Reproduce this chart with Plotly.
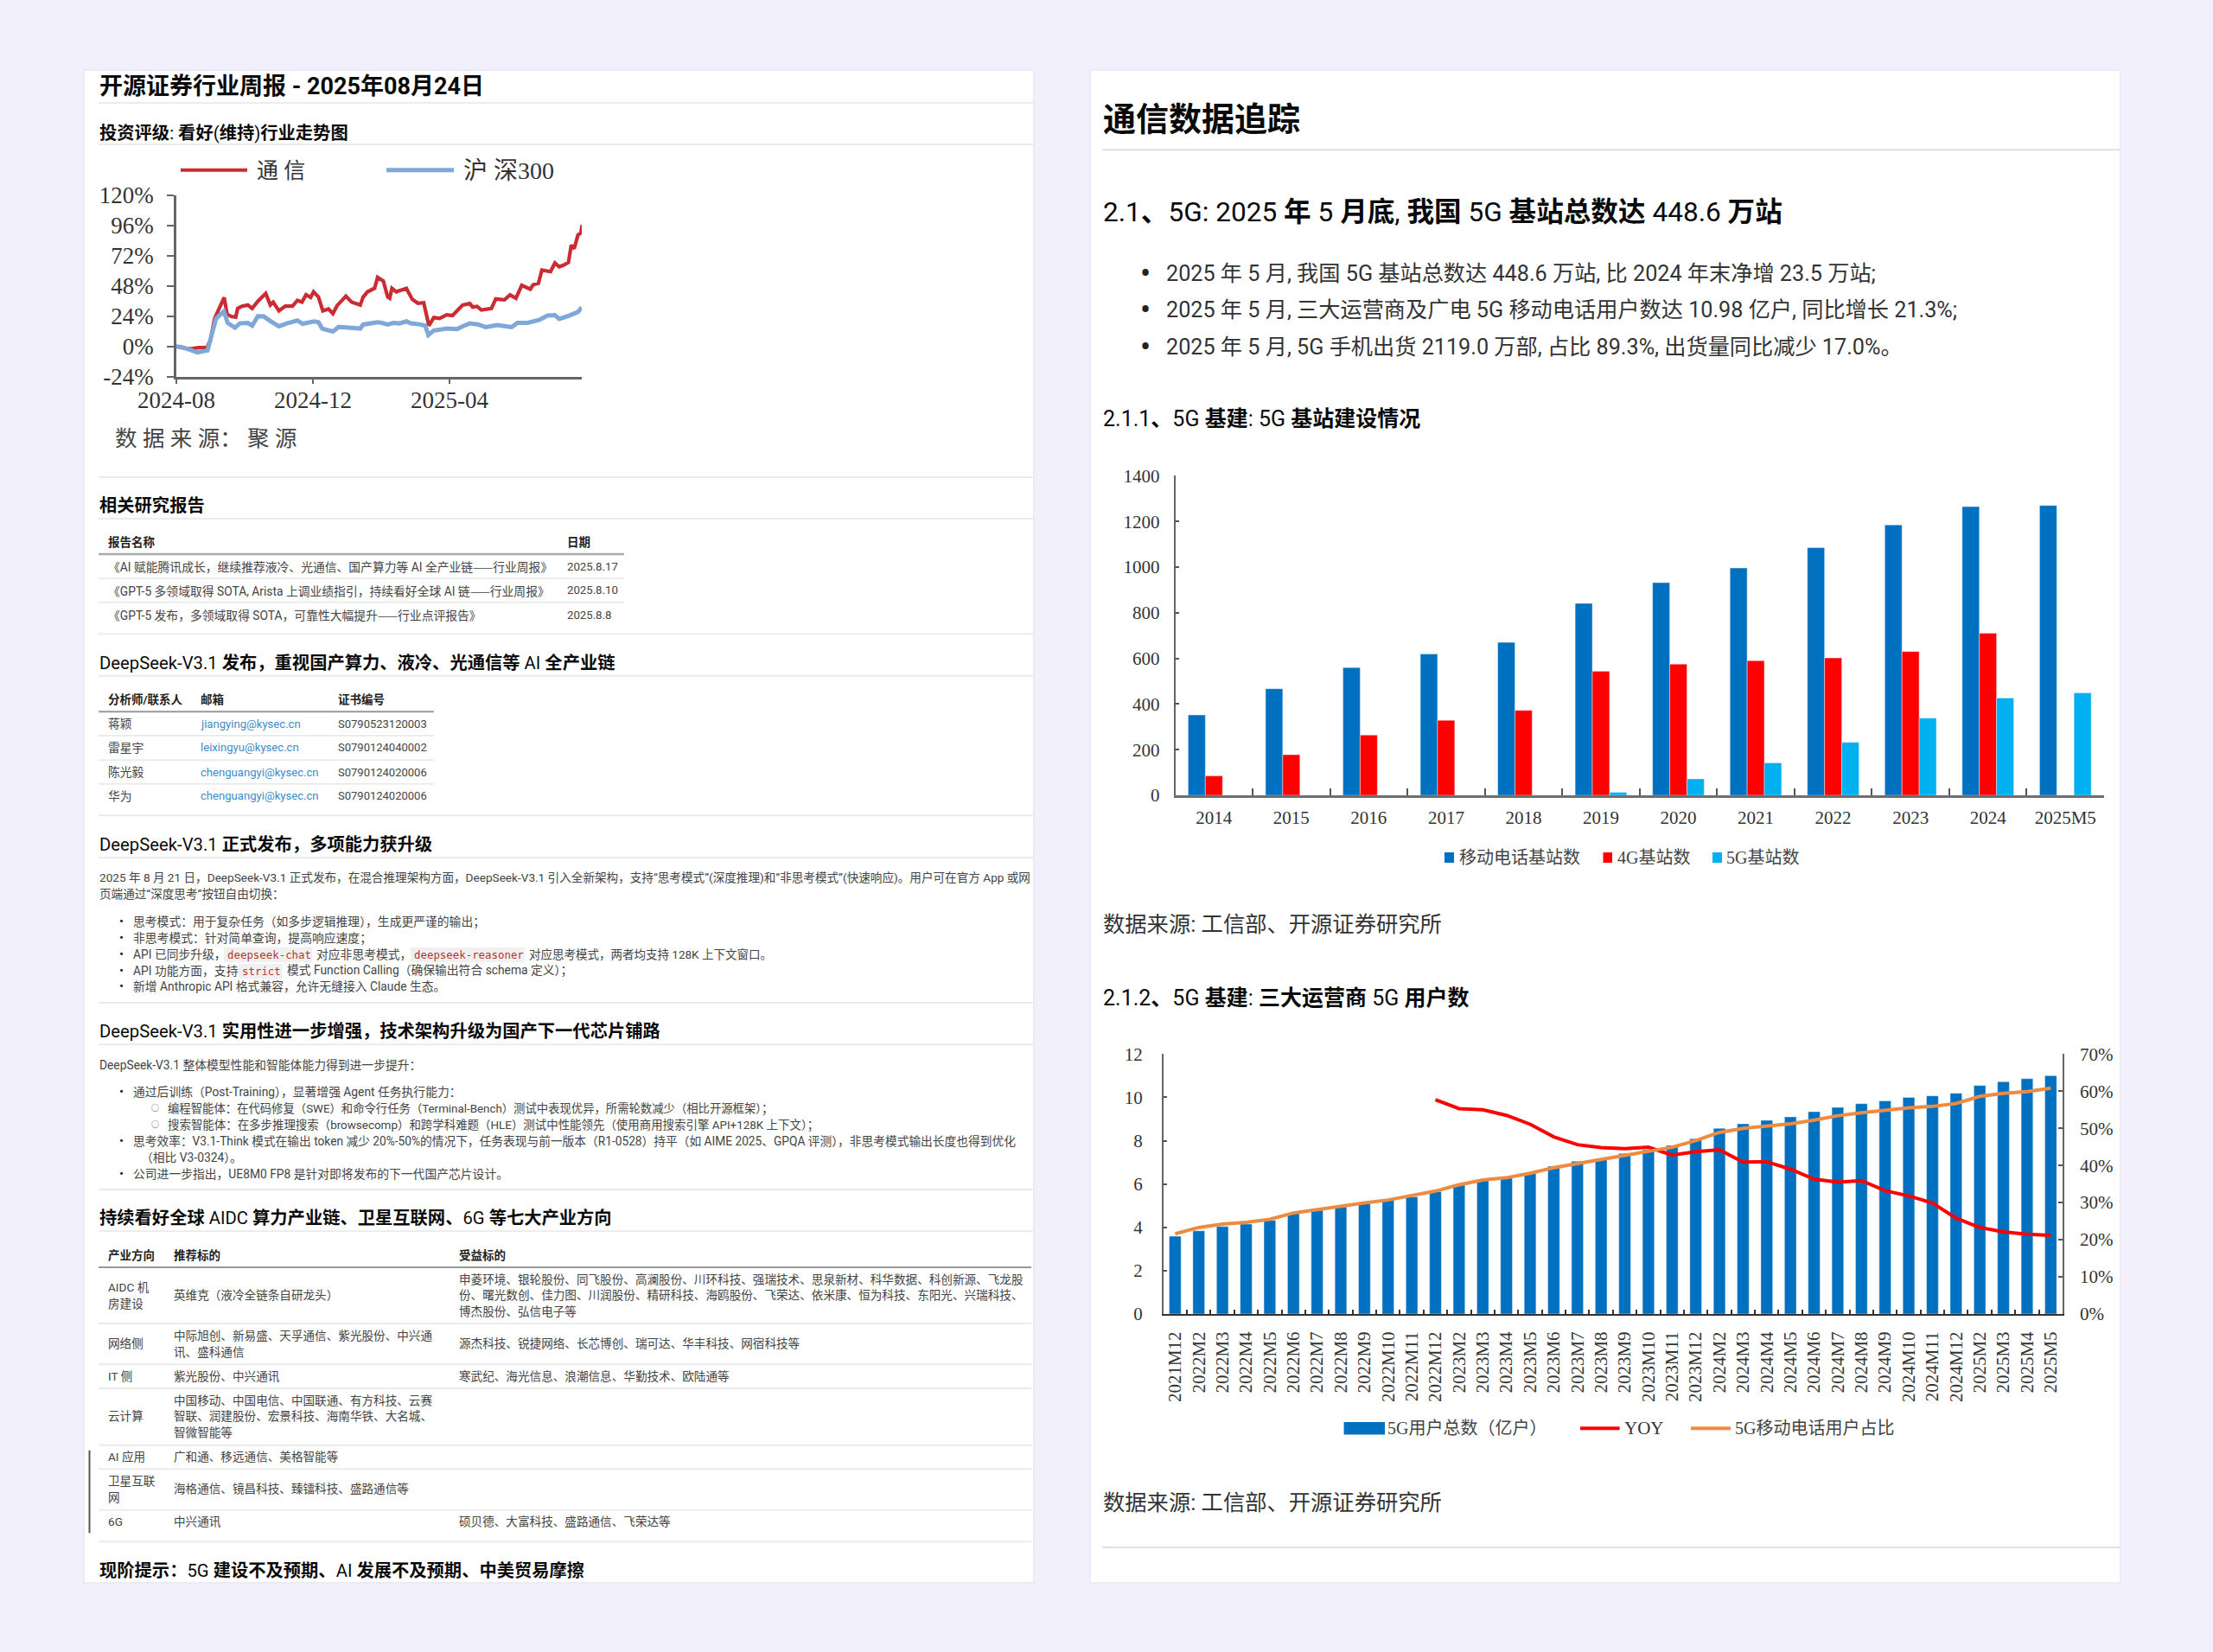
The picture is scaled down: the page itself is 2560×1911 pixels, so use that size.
import re
import pandas as pd
import plotly.graph_objects as go

W, H = 2560, 1911

# ---- left chart: index performance, days counted from the first date
start_date = "2024-08-23"
comm_days = [0, 4.6, 9.8, 14.9, 20, 27.3, 30.4, 34.2, 38.1, 42.7, 45.3, 48.9, 53, 54.8, 58.7, 63.8, 67.7, 72.8, 79.8,
             83.9, 86.5, 91.6, 97.3, 103.7, 108.1, 112.2, 115.8, 119.9, 122.5, 126.9, 130.8, 135.9, 139.8, 143.6,
             151.4, 156.5, 164.2, 166.8, 170.7, 177, 179.7, 184.8, 188.7, 190.5, 192.5, 196.4, 205.4, 210.6, 215.7,
             220.9, 225.5, 229.9, 235, 241.4, 246.6, 255.6, 262, 264.6, 268.5, 272.3, 281.3, 285.2, 292.9, 298,
             303.2, 308.4, 316, 318.7, 323.3, 326.4, 334.1, 338, 341.8, 345.7, 350.1, 352.6, 355.2, 358.6, 361.1, 362.4]
comm_vals = [0, -0.7, -1.8, -1.6, -0.9, -0.9, 5, 22.2, 30.2, 38.9, 25.6, 23.8, 23.3, 30.2, 32, 32.9, 30.2, 35.9, 42.1,
             32.9, 35.2, 28.3, 32, 32, 36.6, 35.2, 41.1, 38.9, 43.4, 39.3, 28.3, 29.7, 26.1, 32.5,
             40, 35.2, 32.9, 39.3, 43.4, 46.2, 54.9, 51.9, 39.3, 38.2, 46.2, 43.4, 46.2, 37.5, 34.3,
             34.7, 16.5, 22.9, 22.2, 25.1, 24.5, 32.9, 34.1, 31.3, 31.8, 29, 30.2, 37.7, 37, 40.9,
             38.2, 48.5, 45.5, 49.1, 50.1, 60.6, 59.4, 66.3, 63.3, 64.5, 66.8, 80.5, 77.7, 88.5, 90.1, 96.5]
hs300_days = [0, 4.6, 11.1, 18.8, 27.8, 31.7, 35.5, 42.5, 45.8, 52.3, 56.6, 63.8, 67.7, 72.8, 78, 85.7, 91.6, 98.6,
              108.1, 112.7, 123, 126.9, 130.2, 139.8, 144.9, 153.9, 164.2, 166.8, 173.2, 179.7, 183.5, 188.7, 193.8,
              199, 205.4, 209.3, 217, 222.2, 225, 229.9, 241.4, 250.5, 255.6, 262, 269.8, 276.2, 286.5, 299.4, 304.5,
              313.5, 323.8, 331.5, 338, 341.8, 350.8, 358.6, 361.9]
hs300_vals = [0, -0.5, -2.3, -4.8, -3.2, 9.6, 22.2, 27.9, 18.7, 14.9, 18.3, 18.7, 16.5, 24, 23.8, 19.2, 16, 18.3,
              20.6, 18, 19.9, 19.2, 14.2, 11.9, 15.5, 15, 14.2, 17.4, 18.7, 19.2, 18.7, 17.4, 18.7,
              18.3, 19.9, 18.3, 17.6, 16.5, 9.1, 12.6, 14.2, 13.7, 16, 18.3, 17.4, 15.3, 16.9, 15.3, 18.7,
              18.7, 21, 24.5, 24.9, 21.9, 24.5, 27.4, 31.1]
perf_ticks = [-24, 0, 24, 48, 72, 96, 120]
perf_ticktext = ["-24%", "0%", "24%", "48%", "72%", "96%", "120%"]
perf_xticks = ["2024-08-23", "2024-12-23", "2025-04-24"]
perf_xticktext = ["2024-08", "2024-12", "2025-04"]

# ---- base stations (10k)
station_years = ["2014", "2015", "2016", "2017", "2018", "2019", "2020", "2021", "2022", "2023", "2024", "2025M5"]
mobile_stations = [352, 467, 560, 619, 670, 841, 932, 996, 1085, 1185, 1265, 1270]
stations_4g = [85, 178, 264, 329, 372, 544, 575, 590, 602, 630, 710, None]
stations_5g = [None, None, None, None, None, 13, 72, 142, 232, 338, 426, 448.6]

# ---- 5G users
months = ["2021M12", "2022M2", "2022M3", "2022M4", "2022M5", "2022M6", "2022M7", "2022M8", "2022M9", "2022M10",
          "2022M11", "2022M12", "2023M2", "2023M3", "2023M4", "2023M5", "2023M6", "2023M7", "2023M8", "2023M9",
          "2023M10", "2023M11", "2023M12", "2024M2", "2024M3", "2024M4", "2024M5", "2024M6", "2024M7", "2024M8",
          "2024M9", "2024M10", "2024M11", "2024M12", "2025M2", "2025M3", "2025M4", "2025M5"]
users_5g = [3.59, 3.84, 4.04, 4.15, 4.32, 4.66, 4.79, 4.95, 5.10, 5.25, 5.41, 5.65, 5.96, 6.19, 6.29, 6.48, 6.82, 7.05,
            7.16, 7.41, 7.58, 7.78, 8.09, 8.57, 8.78, 8.94, 9.1, 9.34, 9.54, 9.71, 9.84, 10.0, 10.07, 10.19, 10.55,
            10.72, 10.86, 11.0]
users_yoy = [None] * 11 + [57.7, 55.3, 55, 53.5, 51.1, 47.7, 45.6, 44.8, 44.5, 44.9, 42.8, 43.7, 44.2, 40.9, 41, 39,
                           36.3, 35.5, 35.9, 33.2, 31.8, 29.9, 25.8, 23.3, 22.1, 21.5, 21.2]
users_share = [21.6, 23.3, 24.2, 24.7, 25.5, 27.2, 28.1, 29.1, 29.9, 30.7, 32, 33.1, 34.8, 36.1, 36.7, 37.9, 39.4, 40.6,
               41.6, 42.7, 43.8, 44.9, 46.7, 48.9, 50, 50.5, 51.2, 52.2, 53.4, 54.2, 54.9, 55.5, 55.9, 56.7, 58.6,
               59.4, 59.9, 60.8]

RED, BLUE = "#CB2C33", "#7FA8D8"
SANS = "Roboto, Noto Sans CJK SC"
SERIF = "Liberation Serif, Noto Sans CJK SC"
MONO = "DejaVu Sans Mono"
BODY = "#444444"
TXT = 13.8
TBL = 13.6
LATIN = 13.2
DASH = "<span style=\"font-family:'Noto Sans CJK SC'\">——</span>"


def fx(x):
    return x / W


def fy(y):
    return 1 - y / H


annotations = []
shapes = []


def put(x, y, text, size=TXT, color=BODY, family=SANS, anchor="left"):
    if family == SANS:
        # Roboto first changes the line box: small text rides low, large text rides high
        y = y - 1 if size < 15 else y + size * 0.05
    annotations.append(dict(x=fx(x), y=fy(y), xref="paper", yref="paper", text=text, showarrow=False,
                            xanchor=anchor, yanchor="middle", align="left", borderpad=0,
                            font=dict(size=size, color=color, family=family)))


def head(x, y, text, size=20.3, color="#0A0A0A"):
    # latin stays regular in the reference, only the CJK runs are bold
    put(x, y, re.sub(r"([\u3000-\u9fff\uff00-\uffef]+)", r"<b>\1</b>", text), size, color)


def rect(x0, y0, x1, y1, fill, layer="below"):
    shapes.append(dict(type="rect", xref="paper", yref="paper", x0=fx(x0), x1=fx(x1), y0=fy(y0), y1=fy(y1),
                       fillcolor=fill, line_width=0, layer=layer))


def hline(x0, x1, y, color="#EBEBEB", width=2):
    shapes.append(dict(type="line", xref="paper", yref="paper", x0=fx(x0), x1=fx(x1), y0=fy(y), y1=fy(y),
                       line=dict(color=color, width=width), layer="below"))


def key_line(x0, x1, y, color, width):
    shapes.append(dict(type="line", xref="paper", yref="paper", x0=fx(x0), x1=fx(x1), y0=fy(y), y1=fy(y),
                       line=dict(color=color, width=width)))


# cards
rect(96, 80, 1197, 1832, "#ECEAF5")
rect(1260, 80, 2454, 1832, "#ECEAF5")
rect(98, 82, 1195, 1830, "#FFFFFF")
rect(1262, 82, 2452, 1830, "#FFFFFF")

# ---- left card
L = 114
R = 1193
put(L, 98.5, "<b>开源证券行业周报 - 2025年08月24日</b>", 27, "#0A0A0A")
hline(L, 1195, 119)
head(L, 152.7, "投资评级: 看好(维持)行业走势图", 20.3)
hline(L, 1195, 167)

key_line(209, 286, 196.7, RED, 4)
put(296, 197, "通 信", 25, "#333333", SERIF)
key_line(447, 525, 196.7, BLUE, 5)
put(535, 197, "沪 深300", 28, "#333333", SERIF)
put(132, 507, "数 据 来 源： 聚 源", 25.5, "#444444", SERIF)
hline(L, 1195, 552)

head(L, 584, "相关研究报告")
hline(L, 1195, 600)
put(123.6, 628, "<b>报告名称</b>", 13.5, "#222222")
put(655, 628, "<b>日期</b>", 13.5, "#222222")
hline(L, 722, 641, "#AAAAAA", 2.5)
put(124, 656, "《AI 赋能腾讯成长，继续推荐液冷、光通信、国产算力等 AI 全产业链" + DASH + "行业周报》")
put(655, 656, "2025.8.17", LATIN)
hline(L, 722, 669.3)
put(124, 684, "《GPT-5 多领域取得 SOTA, Arista 上调业绩指引，持续看好全球 AI 链" + DASH + "行业周报》")
put(655, 684, "2025.8.10", LATIN)
hline(L, 722, 696.7)
put(124, 712, "《GPT-5 发布，多领域取得 SOTA，可靠性大幅提升" + DASH + "行业点评报告》")
put(655, 712, "2025.8.8", LATIN)
hline(L, 1195, 733.3)

head(L, 766, "DeepSeek-V3.1 发布，重视国产算力、液冷、光通信等 AI 全产业链")
hline(L, 1195, 781.7)
put(123.6, 810, "<b>分析师/联系人</b>", 13.5, "#222222")
put(231, 810, "<b>邮箱</b>", 13.5, "#222222")
put(390, 810, "<b>证书编号</b>", 13.5, "#222222")
hline(L, 502, 823.3, "#999999", 2)
for y, name, mail, cert in [(838.3, "蒋颖", "jiangying@kysec.cn", "S0790523120003"),
                            (865.7, "雷星宇", "leixingyu@kysec.cn", "S0790124040002"),
                            (894, "陈光毅", "chenguangyi@kysec.cn", "S0790124020006"),
                            (921.7, "华为", "chenguangyi@kysec.cn", "S0790124020006")]:
    put(124, y, name)
    put(231, y, mail, 13.1, color="#3B8BC6")
    put(390, y, cert, 13)
hline(L, 502, 851)
hline(L, 502, 879.3)
hline(L, 502, 906.7)
hline(L, 1195, 943.3)

head(L, 976, "DeepSeek-V3.1 正式发布，多项能力获升级")
hline(L, 1195, 992.3)
put(L, 1016, "2025 年 8 月 21 日，DeepSeek-V3.1 正式发布，在混合推理架构方面，DeepSeek-V3.1 引入全新架构，支持“思考模式”(深度推理)和“非思考模式”(快速响应)。用户可在官方 App 或网", TBL)
put(L, 1035.3, "页端通过“深度思考”按钮自由切换：", TBL)
for y in (1067.3, 1086, 1104.7, 1123.7, 1142.3, 1264.3, 1321, 1358.7):
    put(140, y, "•", 14.9, "#222222", anchor="center")
for y in (1283.3, 1302):
    put(179.3, y, "○", 9, "#444444", anchor="center")
put(153.3, 1067.3, "思考模式：用于复杂任务（如多步逻辑推理），生成更严谨的输出；")
put(153.3, 1086, "非思考模式：针对简单查询，提高响应速度；")
put(153.3, 1104.7, "API 已同步升级，")
rect(259, 1096, 361, 1113, "#F1F0F0")
put(262, 1104.7, "deepseek-chat", 12.4, "#B5342F", MONO)
put(365, 1104.7, "对应非思考模式，")
rect(474.7, 1096, 606.7, 1113, "#F1F0F0")
put(477.5, 1104.7, "deepseek-reasoner", 12.4, "#B5342F", MONO)
put(611, 1104.7, "对应思考模式，两者均支持 128K 上下文窗口。", 13.5)
put(153.3, 1123.7, "API 功能方面，支持")
rect(276, 1115, 326.7, 1132.5, "#F1F0F0")
put(279, 1123.7, "strict", 12.4, "#B5342F", MONO)
put(331, 1123.7, "模式 Function Calling（确保输出符合 schema 定义）；")
put(153.3, 1142.3, "新增 Anthropic API 格式兼容，允许无缝接入 Claude 生态。")
hline(L, 1195, 1160)

head(L, 1192.3, "DeepSeek-V3.1 实用性进一步增强，技术架构升级为国产下一代芯片铺路")
hline(L, 1195, 1208.3)
put(L, 1232.7, "DeepSeek-V3.1 整体模型性能和智能体能力得到进一步提升：")
put(153.3, 1264.3, "通过后训练（Post-Training），显著增强 Agent 任务执行能力：")
put(192.6, 1283.3, "编程智能体：在代码修复（SWE）和命令行任务（Terminal-Bench）测试中表现优异，所需轮数减少（相比开源框架）；", 13.35)
put(192.6, 1302, "搜索智能体：在多步推理搜索（browsecomp）和跨学科难题（HLE）测试中性能领先（使用商用搜索引擎 API+128K 上下文）；", 13.45)
put(153.3, 1321, "思考效率：V3.1-Think 模式在输出 token 减少 20%-50%的情况下，任务表现与前一版本（R1-0528）持平（如 AIME 2025、GPQA 评测），非思考模式输出长度也得到优化", 13.72)
put(161.8, 1340, "（相比 V3-0324）。")
put(153.3, 1358.7, "公司进一步指出，UE8M0 FP8 是针对即将发布的下一代国产芯片设计。")
hline(L, 1195, 1376)

head(L, 1408.3, "持续看好全球 AIDC 算力产业链、卫星互联网、6G 等七大产业方向")
hline(L, 1195, 1424.3)
C1, C2, C3 = 124, 199.6, 529.5
put(C1, 1452.7, "<b>产业方向</b>", 13.5, "#222222")
put(C2, 1452.7, "<b>推荐标的</b>", 13.5, "#222222")
put(C3, 1452.7, "<b>受益标的</b>", 13.5, "#222222")
hline(L, R, 1466, "#999999", 2)
put(C1, 1490, "AIDC 机", TBL)
put(C1, 1509.3, "房建设", TBL)
put(C2, 1499.3, "英维克（液冷全链条自研龙头）", TBL)
put(C3, 1480.7, "申菱环境、银轮股份、同飞股份、高澜股份、川环科技、强瑞技术、思泉新材、科华数据、科创新源、飞龙股", TBL)
put(C3, 1499.3, "份、曙光数创、佳力图、川润股份、精研科技、海鸥股份、飞荣达、依米康、恒为科技、东阳光、兴瑞科技、", TBL)
put(C3, 1518.3, "博杰股份、弘信电子等", TBL)
hline(L, R, 1531)
put(C1, 1555, "网络侧", TBL)
put(C2, 1545.7, "中际旭创、新易盛、天孚通信、紫光股份、中兴通", TBL)
put(C2, 1564.7, "讯、盛科通信", TBL)
put(C3, 1555, "源杰科技、锐捷网络、长芯博创、瑞可达、华丰科技、网宿科技等", TBL)
hline(L, R, 1578.3)
put(C1, 1592.7, "IT 侧", TBL)
put(C2, 1592.7, "紫光股份、中兴通讯", TBL)
put(C3, 1592.7, "寒武纪、海光信息、浪潮信息、华勤技术、欧陆通等", TBL)
hline(L, R, 1606)
put(C1, 1639.3, "云计算", TBL)
put(C2, 1620.7, "中国移动、中国电信、中国联通、有方科技、云赛", TBL)
put(C2, 1639.3, "智联、润建股份、宏景科技、海南华铁、大名城、", TBL)
put(C2, 1658.3, "智微智能等", TBL)
hline(L, R, 1671.7)
put(C1, 1686, "AI 应用", TBL)
put(C2, 1686, "广和通、移远通信、美格智能等", TBL)
hline(L, R, 1699.3)
put(C1, 1714, "卫星互联", TBL)
put(C1, 1732.7, "网", TBL)
put(C2, 1723.3, "海格通信、镜昌科技、臻镭科技、盛路通信等", TBL)
hline(L, R, 1746.7)
put(C1, 1761, "6G", TBL)
put(C2, 1761, "中兴通讯", TBL)
put(C3, 1761, "硕贝德、大富科技、盛路通信、飞荣达等", TBL)
hline(L, R, 1783.3)
rect(102.5, 1677.7, 104.5, 1773.3, "#555555")
head(L, 1815.7, "现阶提示：5G 建设不及预期、AI 发展不及预期、中美贸易摩擦")

# ---- right card
RL = 1275.3
put(RL, 136, "<b>通信数据追踪</b>", 38, "#0A0A0A")
hline(RL, 2452, 173.3, "#E0E0E0", 2)
head(RL, 243.5, "2.1、5G: 2025 年 5 月底, 我国 5G 基站总数达 448.6 万站", 31.6)
for y in (315, 357.3, 400):
    put(1325, y, "•", 36, "#222222", anchor="center")
put(1348, 315, "2025 年 5 月, 我国 5G 基站总数达 448.6 万站, 比 2024 年末净增 23.5 万站;", 25.2, "#333333")
put(1348, 357.3, "2025 年 5 月, 三大运营商及广电 5G 移动电话用户数达 10.98 亿户, 同比增长 21.3%;", 25.2, "#333333")
put(1348, 400, "2025 年 5 月, 5G 手机出货 2119.0 万部, 占比 89.3%, 出货量同比减少 17.0%。", 25.2, "#333333")
head(RL, 483.3, "2.1.1、5G 基建: 5G 基站建设情况", 25)

for x0, x1, color, tx, label in [(1671, 1682, "#0070C0", 1687, "移动电话基站数"),
                                 (1854.5, 1865, "#FF0000", 1870, "4G基站数"),
                                 (1981, 1992, "#00B0F0", 1996, "5G基站数")]:
    rect(x0, 986, x1, 998, color, "above")
    put(tx, 992, label, 20, "#444444", SERIF)
put(RL, 1068, "数据来源: 工信部、开源证券研究所", 25.3, "#333333")

head(RL, 1153, "2.1.2、5G 基建: 三大运营商 5G 用户数", 25)
rect(1554.6, 1645, 1602, 1659.5, "#0070C0", "above")
put(1604, 1652.3, "5G用户总数（亿户）", 20, "#444444", SERIF)
key_line(1828, 1873.6, 1652.3, "#FF0000", 4)
put(1878, 1652.3, "YOY", 21, "#333333", SERIF)
key_line(1956, 2002, 1652.3, "#ED8B42", 4)
put(2006, 1652.3, "5G移动电话用户占比", 20, "#444444", SERIF)
put(RL, 1737, "数据来源: 工信部、开源证券研究所", 25.3, "#333333")
hline(RL, 2452, 1790, "#E0E0E0", 2)

fig = go.Figure()

base = pd.Timestamp(start_date)
comm_dates = base + pd.to_timedelta(comm_days, unit="D")
hs300_dates = base + pd.to_timedelta(hs300_days, unit="D")
fig.add_trace(go.Scatter(x=comm_dates, y=comm_vals, mode="lines", name="通信",
                         line=dict(color=RED, width=4.2), xaxis="x", yaxis="y"))
fig.add_trace(go.Scatter(x=hs300_dates, y=hs300_vals, mode="lines", name="沪深300",
                         line=dict(color=BLUE, width=5), xaxis="x", yaxis="y"))

fig.add_trace(go.Bar(x=station_years, y=mobile_stations, name="移动电话基站数", marker_color="#0070C0",
                     xaxis="x2", yaxis="y2"))
fig.add_trace(go.Bar(x=station_years, y=stations_4g, name="4G基站数", marker_color="#FF0000",
                     xaxis="x2", yaxis="y2"))
fig.add_trace(go.Bar(x=station_years, y=stations_5g, name="5G基站数", marker_color="#00B0F0",
                     xaxis="x2", yaxis="y2"))

fig.add_trace(go.Bar(x=months, y=users_5g, name="5G用户总数（亿户）", marker_color="#0070C0", width=0.5, offset=-0.25,
                     xaxis="x3", yaxis="y3"))
fig.add_trace(go.Scatter(x=months, y=users_yoy, mode="lines", name="YOY", connectgaps=False,
                         line=dict(color="#FF0000", width=4), xaxis="x3", yaxis="y4"))
fig.add_trace(go.Scatter(x=months, y=users_share, mode="lines", name="5G移动电话用户占比",
                         line=dict(color="#ED8B42", width=4), xaxis="x3", yaxis="y4"))

serif27 = dict(family=SERIF, size=27, color="#333333")
serif21 = dict(family=SERIF, size=21, color="#333333")

fig.update_layout(
    width=W, height=H, margin=dict(l=0, r=0, t=0, b=0, autoexpand=False), showlegend=False,
    paper_bgcolor="#F2F0FC", plot_bgcolor="rgba(0,0,0,0)",
    barmode="group", bargap=1 / 3, bargroupgap=0,
    annotations=annotations, shapes=shapes,
    xaxis=dict(domain=[fx(204), fx(673)], anchor="y", type="date", automargin=False,
               range=[base, base + pd.Timedelta(days=362)],
               tickmode="array", tickvals=perf_xticks, ticktext=perf_xticktext, tickfont=serif27,
               ticks="outside", ticklen=6, tickwidth=2, tickcolor="#666666",
               showline=True, linecolor="#666666", linewidth=2.5, showgrid=False, zeroline=False,
               ticklabelstandoff=-5),
    yaxis=dict(domain=[fy(435.7), fy(226)], anchor="x", range=[-24, 120], automargin=False,
               tickmode="array", tickvals=perf_ticks, ticktext=perf_ticktext, tickfont=serif27,
               ticks="outside", ticklen=8, tickwidth=2, tickcolor="#666666",
               showline=True, linecolor="#666666", linewidth=2.5, showgrid=False, zeroline=False,
               ticklabelstandoff=10),
    xaxis2=dict(domain=[fx(1359.5), fx(2434)], anchor="y2", type="category", tickson="boundaries", automargin=False,
                ticks="inside", ticklen=8, tickwidth=1.5, tickcolor="#555555", tickfont=serif21,
                showline=True, linecolor="#6F6F6F", linewidth=3, showgrid=False, zeroline=False,
                ticklabelstandoff=5),
    yaxis2=dict(domain=[fy(920), fy(550.4)], anchor="x2", range=[0, 1400], dtick=200, tickfont=serif21, automargin=False,
                ticks="inside", ticklen=5, tickwidth=1.5, tickcolor="#555555",
                showline=True, linecolor="#666666", linewidth=1.5, showgrid=False, zeroline=False,
                ticklabelstandoff=12),
    xaxis3=dict(domain=[fx(1345.7), fx(2386)], anchor="y3", type="category", tickson="boundaries", automargin=False,
                tickmode="array", tickvals=months, ticktext=months, tickangle=-90,
                ticks="inside", ticklen=5, tickwidth=1.5, tickcolor="#333333", tickfont=serif21,
                showline=True, linecolor="#333333", linewidth=2, showgrid=False, zeroline=False,
                ticklabelstandoff=10),
    yaxis3=dict(domain=[fy(1520), fy(1219.3)], anchor="x3", range=[0, 12], dtick=2, tickfont=serif21, automargin=False,
                ticks="inside", ticklen=5, tickwidth=1.5, tickcolor="#555555",
                showline=True, linecolor="#666666", linewidth=1.5, showgrid=False, zeroline=False,
                ticklabelstandoff=18),
    yaxis4=dict(domain=[fy(1520), fy(1219.3)], anchor="x3", overlaying="y3", side="right", range=[0, 70], dtick=10,
                ticksuffix="%", tickfont=serif21, automargin=False,
                ticks="inside", ticklen=5, tickwidth=1.5, tickcolor="#555555",
                showline=True, linecolor="#666666", linewidth=1.5, showgrid=False, zeroline=False,
                ticklabelstandoff=14),
)

fig.write_html("out.html", config={"displayModeBar": False},
               post_script="document.body.style.margin='0';document.body.style.overflow='hidden';")
